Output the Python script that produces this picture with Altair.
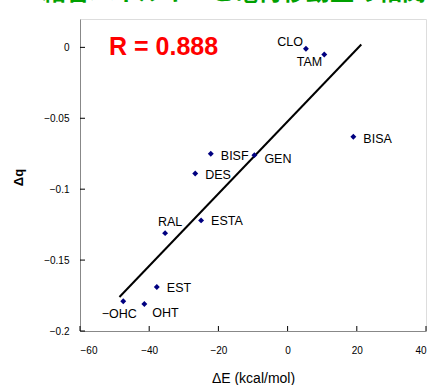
import altair as alt
import pandas as pd

# data
names = ["CLO", "TAM", "BISA", "GEN", "BISF", "DES", "ESTA", "RAL", "EST", "−OHC", "OHT"]
delta_e = [5.3, 10.6, 19.0, -9.6, -22.2, -26.7, -25.0, -35.4, -37.8, -47.5, -41.4]
delta_q = [-0.001, -0.005, -0.063, -0.076, -0.075, -0.089, -0.122, -0.131, -0.169, -0.179, -0.181]

fit_x = [-48.6, 21.3]
fit_y = [-0.176, 0.002]

x_ticks = [-60, -40, -20, 0, 20, 40]
y_ticks = [-0.2, -0.15, -0.1, -0.05, 0]

r_text = "R = 0.888"
title_text = "結合エネルギーと電荷移動量の相関"

# label placement styling (pixel offsets), not data
label_style = {
    "CLO": ("right", -3, -7),
    "TAM": ("right", -2, 8),
    "BISA": ("left", 10, 2),
    "GEN": ("left", 10, 4),
    "BISF": ("left", 10, 2),
    "DES": ("left", 10, 1),
    "ESTA": ("left", 10, 1),
    "RAL": ("center", 5, -11),
    "EST": ("left", 10, 1),
    "−OHC": ("center", -4, 13),
    "OHT": ("left", 8, 9),
}

pts = pd.DataFrame({"name": names, "dE": delta_e, "dq": delta_q})
fit = pd.DataFrame({"dE": fit_x, "dq": fit_y})
xt = pd.DataFrame({"v": x_ticks})
yt = pd.DataFrame({"v": y_ticks})
rdf = pd.DataFrame({"dE": [-51.6], "dq": [0.0], "t": [r_text]})

W, H = 346, 312
FONT = "Liberation Sans"

xscale = alt.Scale(domain=[-60, 40], nice=False, zero=False)
yscale = alt.Scale(domain=[-0.2, 0.02], nice=False, zero=False)

xenc = alt.X("dE:Q", scale=xscale,
             axis=alt.Axis(values=x_ticks, title="ΔE (kcal/mol)", ticks=False,
                           grid=False, labelPadding=14, format="d",
                           titleY=47, titleBaseline="middle",
                           titleFontSize=14, titleFontWeight="normal"))
yenc = alt.Y("dq:Q", scale=yscale,
             axis=alt.Axis(values=y_ticks, title="Δq", ticks=False, grid=False,
                           labelPadding=11, format=".2~f",
                           titleX=-62, titleY=158, titleBaseline="middle",
                           titleFontSize=13, titleFontWeight="bold"))

points = alt.Chart(pts).mark_point(shape="diamond", filled=True, color="#000080",
                                   size=35, opacity=1).encode(x=xenc, y=yenc)

line = alt.Chart(fit).mark_line(color="black", strokeWidth=2).encode(
    x=alt.X("dE:Q", scale=xscale), y=alt.Y("dq:Q", scale=yscale))

xtick = alt.Chart(xt).mark_rule(color="black", strokeWidth=1).encode(
    x=alt.X("v:Q", scale=xscale), y=alt.value(H), y2=alt.value(H - 5))
ytick = alt.Chart(yt).mark_rule(color="black", strokeWidth=1).encode(
    y=alt.Y("v:Q", scale=yscale), x=alt.value(0), x2=alt.value(5))

labels = []
for n in names:
    al, dx, dy = label_style[n]
    labels.append(
        alt.Chart(pts).transform_filter(alt.datum.name == n).mark_text(
            align=al, baseline="middle", dx=dx, dy=dy, font=FONT, fontSize=12.5,
            color="black").encode(
            x=alt.X("dE:Q", scale=xscale), y=alt.Y("dq:Q", scale=yscale),
            text="name:N"))

rlabel = alt.Chart(rdf).mark_text(align="left", baseline="middle", font=FONT,
                                  fontSize=25, fontWeight="bold", color="#FF0000").encode(
    x=alt.X("dE:Q", scale=xscale), y=alt.Y("dq:Q", scale=yscale), text="t:N")

chart = alt.layer(line, xtick, ytick, points, *labels, rlabel).properties(
    width=W, height=H,
    autosize=alt.AutoSizeParams(type="none"),
    padding={"left": 80, "top": 19, "right": 6, "bottom": 54},
    title=alt.TitleParams(title_text, anchor="start", dx=30, dy=10, offset=0,
                          fontSize=24, fontWeight="bold", color="#00A000",
                          font="Noto Sans CJK JP", baseline="bottom"),
).configure_view(stroke="black", strokeWidth=1.2).configure_axis(
    domainColor="black", domainWidth=1.5, labelFont=FONT, labelFontSize=12.5,
    labelColor="black", titleFont=FONT, titleColor="black"
).configure(background="white")

chart.save("out.html", embed_options={"renderer": "svg", "actions": False})
